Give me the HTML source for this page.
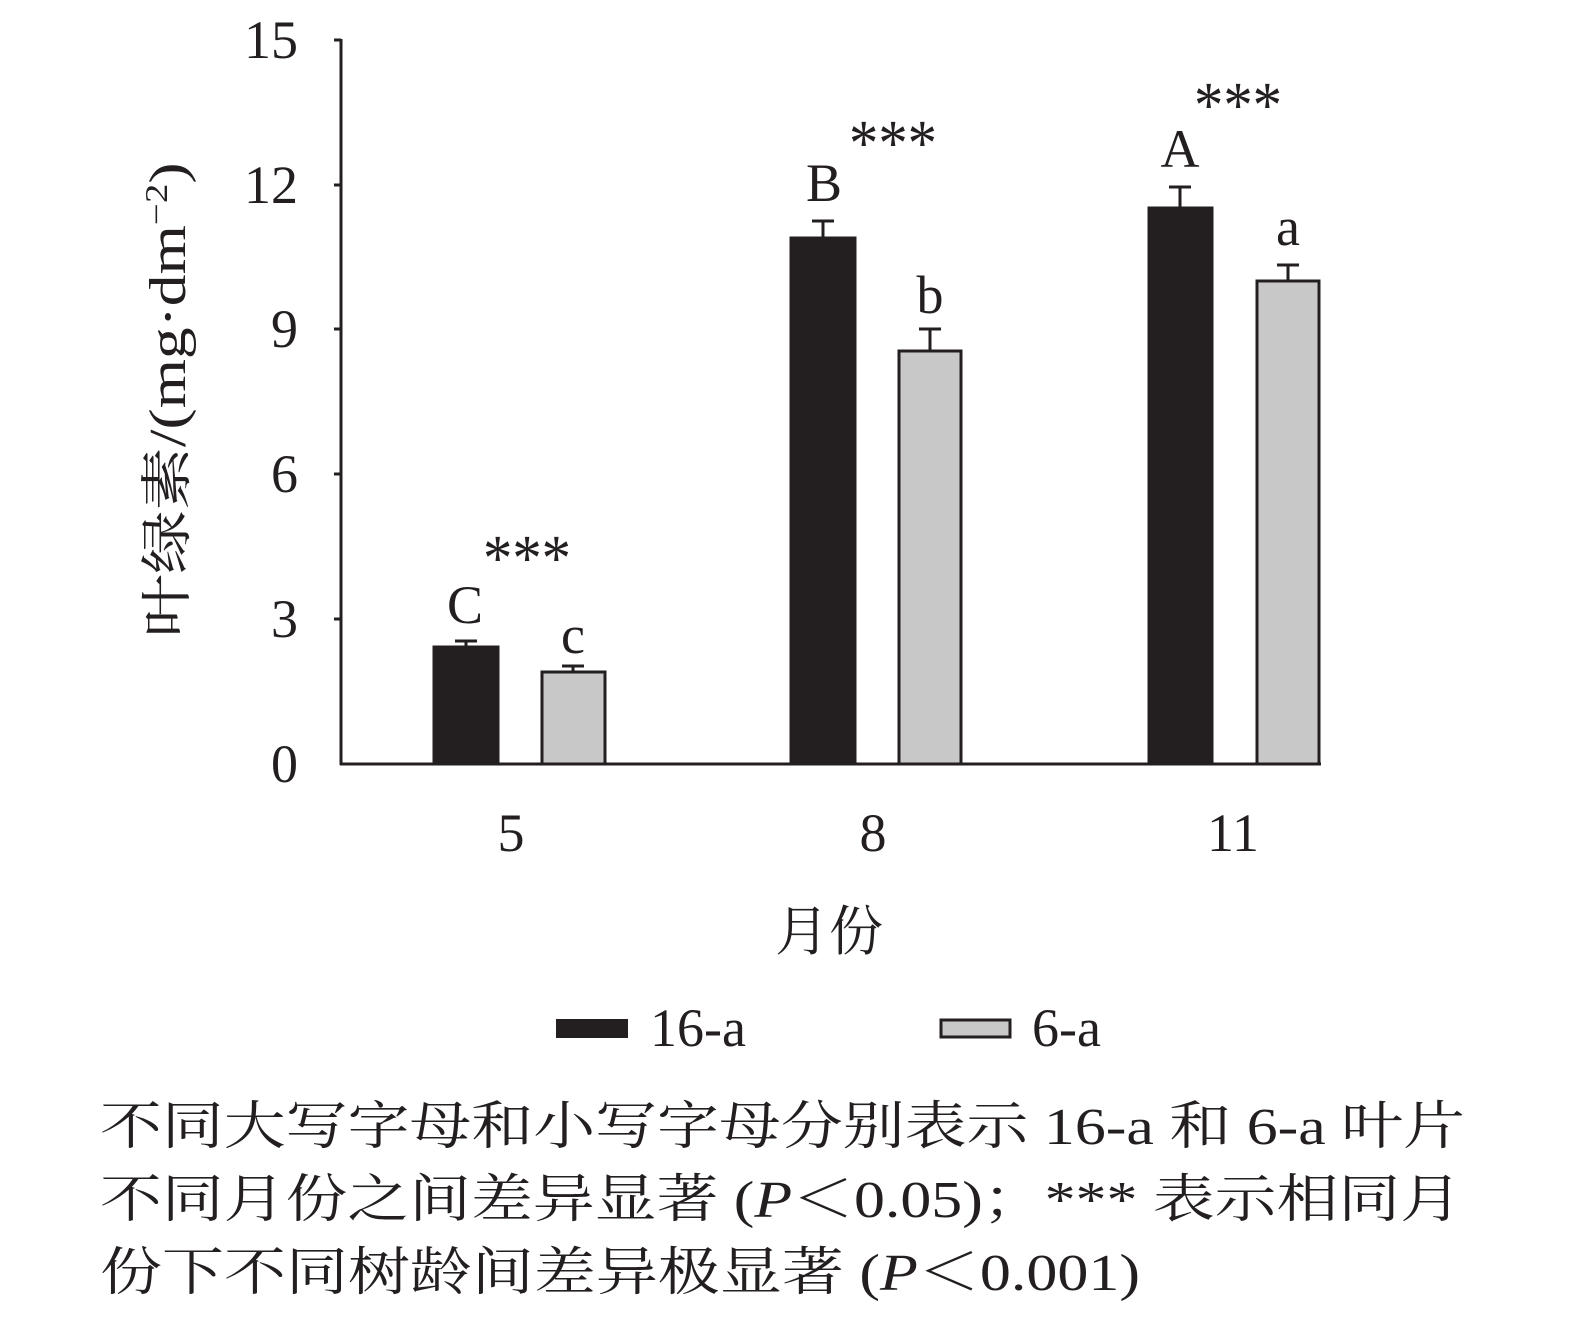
<!DOCTYPE html>
<html><head><meta charset="utf-8"><style>body{margin:0;background:#fff}svg{display:block}</style></head><body>
<svg width="1575" height="1323" viewBox="0 0 1575 1323" font-family="'Liberation Serif','Noto Serif CJK SC',serif" fill="#231f20">
<g stroke="#231f20" stroke-width="3">
<line x1="341" y1="39" x2="341" y2="765"/>
<line x1="340" y1="764" x2="1321" y2="764"/>
<line x1="334" y1="40" x2="341" y2="40"/>
<line x1="334" y1="185" x2="341" y2="185"/>
<line x1="334" y1="329" x2="341" y2="329"/>
<line x1="334" y1="474" x2="341" y2="474"/>
<line x1="334" y1="619" x2="341" y2="619"/>
</g>
<g font-size="54" text-anchor="end">
<text x="298" y="58">15</text><text x="298" y="203">12</text><text x="298" y="347">9</text>
<text x="298" y="492">6</text><text x="298" y="637">3</text><text x="298" y="782">0</text>
</g>
<g stroke="#231f20" stroke-width="3">
<rect x="434" y="647" width="64" height="117" fill="#231f20"/>
<rect x="542" y="672" width="63" height="92" fill="#c8c8c8"/>
<rect x="791" y="238" width="64" height="526" fill="#231f20"/>
<rect x="899" y="351" width="62" height="413" fill="#c8c8c8"/>
<rect x="1149" y="208" width="63" height="556" fill="#231f20"/>
<rect x="1257" y="281" width="62" height="483" fill="#c8c8c8"/>
<path d="M466 647V641M455 641H477 M573 672V666M562 666H584 M823 238V221M812 221H834 M930 351V329M919 329H941 M1180 208V187M1169 187H1191 M1288 281V265M1277 265H1299" fill="none"/>
</g>
<g font-size="54" text-anchor="middle">
<text x="465" y="623">C</text><text x="573" y="653">c</text>
<text x="824" y="201">B</text><text x="930" y="313">b</text>
<text x="1180" y="167">A</text><text x="1288" y="245">a</text>
<text x="527" y="580" font-size="66" textLength="88" lengthAdjust="spacingAndGlyphs">***</text>
<text x="893" y="165" font-size="66" textLength="88" lengthAdjust="spacingAndGlyphs">***</text>
<text x="1238" y="127" font-size="66" textLength="88" lengthAdjust="spacingAndGlyphs">***</text>
<text x="511" y="851">5</text>
<text x="873" y="851">8</text>
<text x="1233" y="851">11</text>
<text x="829" y="950">月份</text>
</g>
<text transform="translate(185,400) rotate(-90)" font-size="52" text-anchor="middle" textLength="475" lengthAdjust="spacingAndGlyphs">叶绿素/(mg·dm<tspan font-size="32" dy="-18">−2</tspan><tspan dy="18">)</tspan></text>
<rect x="557" y="1020" width="70" height="17" fill="#231f20" stroke="#231f20" stroke-width="2"/>
<text x="650" y="1046" font-size="54">16-a</text>
<rect x="941" y="1020" width="69" height="17" fill="#c8c8c8" stroke="#231f20" stroke-width="3"/>
<text x="1032" y="1046" font-size="54">6-a</text>
<g font-size="52">
<text x="100" y="1144" textLength="1365" lengthAdjust="spacingAndGlyphs">不同大写字母和小写字母分别表示 16-a 和 6-a 叶片</text>
<text x="100" y="1217" textLength="1362" lengthAdjust="spacingAndGlyphs">不同月份之间差异显著 (<tspan font-style="italic">P</tspan>＜0.05)；*** 表示相同月</text>
<text x="100" y="1290" textLength="1040" lengthAdjust="spacingAndGlyphs">份下不同树龄间差异极显著 (<tspan font-style="italic">P</tspan>＜0.001)</text>
</g>
</svg>
</body></html>
